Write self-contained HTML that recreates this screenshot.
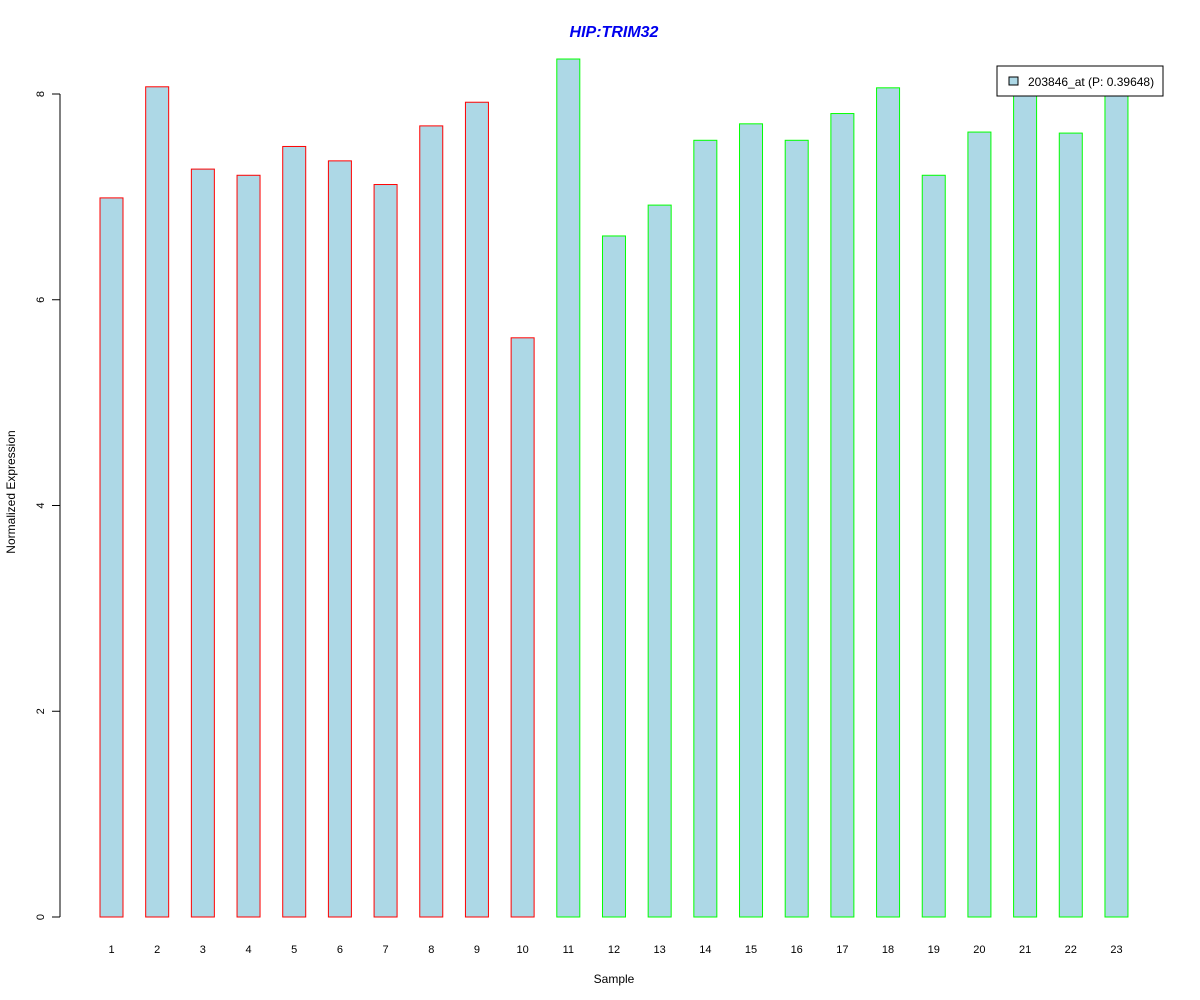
<!DOCTYPE html>
<html><head><meta charset="utf-8"><style>body{margin:0;background:#fff}svg{display:block;font-family:"Liberation Sans",Arial,sans-serif}</style></head>
<body>
<svg id="chart" width="1200" height="1000">
<text x="614" y="37" text-anchor="middle" font-size="16" font-weight="bold" font-style="italic" fill="#0000ee">HIP:TRIM32</text>
<text x="614" y="983" text-anchor="middle" font-size="12">Sample</text>
<text transform="translate(15,492) rotate(-90)" text-anchor="middle" font-size="12">Normalized Expression</text>
<g id="bars"></g><g id="yaxis"></g><g id="xlabels"></g>
<g>
<rect x="997" y="66" width="166" height="30" fill="#fff" stroke="#000"/>
<rect x="1009" y="77" width="9" height="8" fill="#add8e6" stroke="#000"/>
<text x="1028" y="86" font-size="12">203846_at (P: 0.39648)</text>
</g>
</svg>
<script>
const categories=["1","2","3","4","5","6","7","8","9","10","11","12","13","14","15","16","17","18","19","20","21","22","23"];
const values=[6.99,8.07,7.27,7.21,7.49,7.35,7.12,7.69,7.92,5.63,8.34,6.62,6.92,7.55,7.71,7.55,7.81,8.06,7.21,7.63,8.1,7.62,8.1];
const groups=["a","a","a","a","a","a","a","a","a","a","b","b","b","b","b","b","b","b","b","b","b","b","b"];
const yTicks=[0,2,4,6,8];
const NS="http://www.w3.org/2000/svg";
const y=v=>917-v*102.875;
const x=i=>111.5+i*45.68;
const bars=document.getElementById('bars'),ya=document.getElementById('yaxis'),xl=document.getElementById('xlabels');
function mk(t,a,p){const e=document.createElementNS(NS,t);for(const k in a)e.setAttribute(k,a[k]);p.appendChild(e);return e;}
values.forEach((v,i)=>{
 const r=mk('rect',{x:x(i)-11.5,y:y(v),width:23,height:y(0)-y(v),fill:'#add8e6',stroke:groups[i]==='a'?'#ff0000':'#00ff00'},bars);
 
 
 const t=mk('text',{x:x(i),y:953,'text-anchor':'middle','font-size':11},xl);t.textContent=categories[i];
 
 
});
const ax=mk('line',{x1:60,x2:60,y1:y(0),y2:y(8),stroke:'#000'},ya);


yTicks.forEach(v=>{
 mk('line',{x1:52,x2:60,y1:y(v),y2:y(v),stroke:'#000'},ya);
 const t=mk('text',{transform:`translate(44,${y(v)}) rotate(-90)`,'text-anchor':'middle','font-size':11},ya);t.textContent=v;
 
 
});
</script>
</body></html>
